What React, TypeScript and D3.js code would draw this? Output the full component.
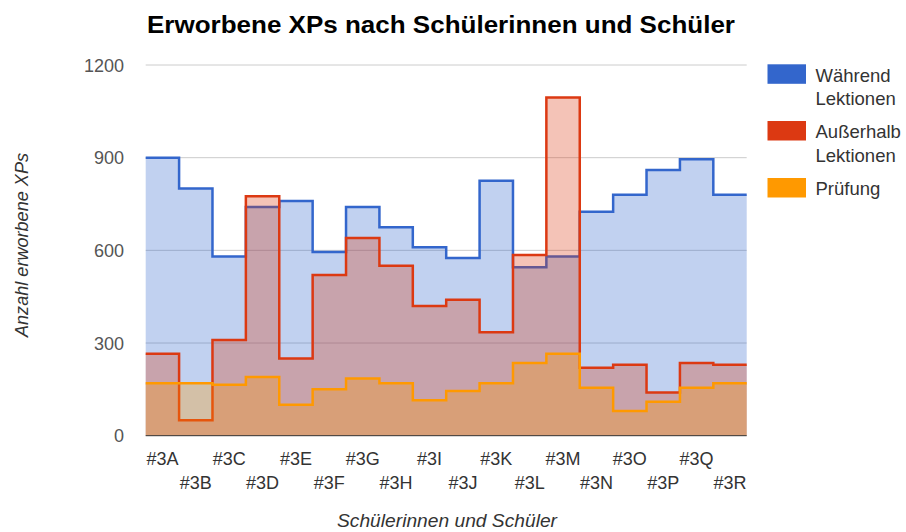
import React, { useEffect, useRef } from 'react';
import * as d3 from 'd3';

const categories = ['#3A', '#3B', '#3C', '#3D', '#3E', '#3F', '#3G', '#3H', '#3I', '#3J', '#3K', '#3L', '#3M', '#3N', '#3O', '#3P', '#3Q', '#3R'];
const waehrend = [900, 800, 580, 740, 760, 595, 740, 675, 610, 575, 825, 545, 580, 725, 780, 860, 895, 780];
const ausserhalb = [265, 50, 310, 775, 250, 520, 640, 550, 420, 440, 335, 585, 1095, 220, 230, 140, 235, 230];
const pruefung = [170, 170, 165, 190, 100, 150, 185, 170, 115, 145, 170, 235, 265, 155, 80, 110, 155, 170];
const yTicks = [0, 300, 600, 900, 1200];

const seriesNames = [['Während', 'Lektionen'], ['Außerhalb', 'Lektionen'], ['Prüfung']];
const seriesColors = ['#3366cc', '#dc3912', '#ff9900'];

const FONT = '"Liberation Sans", Arial, sans-serif';

const App = () => {
  const svgRef = useRef<SVGSVGElement>(null);

  useEffect(() => {
    const svg = d3.select(svgRef.current);
    svg.selectAll('*').remove();

    const left = 145.7;
    const right = 746.7;
    const top = 65;
    const bottom = 435.7;

    const x = d3.scaleBand().domain(categories).range([left, right]).padding(0);
    const y = d3.scaleLinear().domain([0, 1200]).range([bottom, top]);

    // title
    svg
      .append('text')
      .attr('x', 147)
      .attr('y', 33)
      .attr('textLength', 588)
      .attr('lengthAdjust', 'spacingAndGlyphs')
      .style('font-family', FONT)
      .style('font-weight', 'bold')
      .style('font-size', '23px')
      .attr('fill', '#000')
      .text('Erworbene XPs nach Schülerinnen und Schüler');

    // gridlines
    svg
      .append('g')
      .selectAll('line')
      .data(yTicks.filter(t => t > 0))
      .enter()
      .append('line')
      .attr('x1', left)
      .attr('x2', right)
      .attr('y1', d => y(d))
      .attr('y2', d => y(d))
      .attr('stroke', '#cccccc')
      .attr('stroke-width', 1);

    // y tick labels
    svg
      .append('g')
      .selectAll('text')
      .data(yTicks)
      .enter()
      .append('text')
      .attr('x', 124)
      .attr('y', d => y(d) + 6.5)
      .attr('text-anchor', 'end')
      .style('font-family', FONT)
      .style('font-size', '18px')
      .attr('fill', '#555')
      .text(d => d);

    const all = [waehrend, ausserhalb, pruefung];
    const line = d3.line<[number, number]>().x(d => d[0]).y(d => y(d[1]));
    const area = d3
      .area<[number, number]>()
      .x(d => d[0])
      .y0(y(0))
      .y1(d => y(d[1]));

    all.forEach((vals, si) => {
      const pts: [number, number][] = [];
      vals.forEach((v, i) => {
        const x0 = x(categories[i])!;
        pts.push([x0, v]);
        pts.push([x0 + x.bandwidth(), v]);
      });
      svg
        .append('path')
        .attr('d', area(pts))
        .attr('fill', seriesColors[si])
        .attr('fill-opacity', 0.3);
      svg
        .append('path')
        .attr('d', line(pts))
        .attr('fill', 'none')
        .attr('stroke', seriesColors[si])
        .attr('stroke-width', 2.5);
    });

    // baseline
    svg
      .append('line')
      .attr('x1', left)
      .attr('x2', right)
      .attr('y1', y(0))
      .attr('y2', y(0))
      .attr('stroke', '#333')
      .attr('stroke-width', 1);

    // x labels in two staggered rows
    svg
      .append('g')
      .selectAll('text')
      .data(categories)
      .enter()
      .append('text')
      .attr('x', d => x(d)! + x.bandwidth() / 2)
      .attr('y', (d, i) => (i % 2 === 0 ? 465 : 489))
      .attr('text-anchor', 'middle')
      .style('font-family', FONT)
      .style('font-size', '18px')
      .attr('fill', '#333')
      .text(d => d);

    // axis titles
    svg
      .append('text')
      .attr('x', 447)
      .attr('y', 527)
      .attr('text-anchor', 'middle')
      .attr('textLength', 220)
      .attr('lengthAdjust', 'spacingAndGlyphs')
      .style('font-family', FONT)
      .style('font-style', 'italic')
      .style('font-size', '18.5px')
      .attr('fill', '#333')
      .text('Schülerinnen und Schüler');

    svg
      .append('text')
      .attr('transform', 'translate(28,245) rotate(-90)')
      .attr('text-anchor', 'middle')
      .attr('textLength', 184)
      .attr('lengthAdjust', 'spacingAndGlyphs')
      .style('font-family', FONT)
      .style('font-style', 'italic')
      .style('font-size', '18px')
      .attr('fill', '#333')
      .text('Anzahl erworbene XPs');

    // legend
    const legendTops = [64.3, 121, 178];
    seriesNames.forEach((lines, i) => {
      const g = svg.append('g');
      g.append('rect')
        .attr('x', 767.5)
        .attr('y', legendTops[i])
        .attr('width', 38.5)
        .attr('height', 19.5)
        .attr('fill', seriesColors[i]);
      lines.forEach((t, j) => {
        g.append('text')
          .attr('x', 815.5)
          .attr('y', legendTops[i] + 17.4 + j * 23.5)
          .style('font-family', FONT)
          .style('font-size', '18.5px')
          .attr('fill', '#333')
          .text(t);
      });
    });
  }, []);

  return (
    <div style={{ position: 'absolute', left: 0, top: 0 }}>
      <svg ref={svgRef} width={906} height={532} style={{ display: 'block', background: '#fff' }} />
    </div>
  );
};

export default App;
